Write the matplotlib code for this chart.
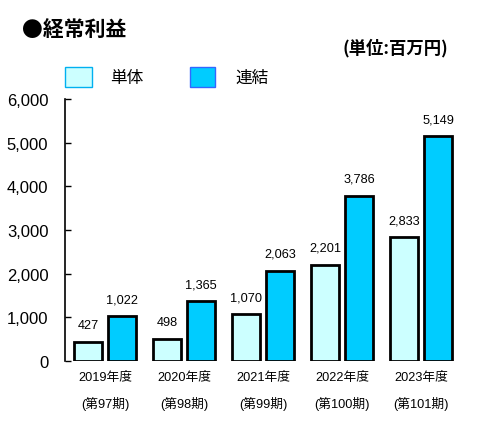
import matplotlib
matplotlib.use("Agg")
import matplotlib.pyplot as plt
from matplotlib.patches import Rectangle
import numpy as np

plt.rcParams['font.family'] = ['Liberation Sans', 'Noto Sans CJK JP']
CJK = ['Noto Sans CJK JP', 'DejaVu Sans']

years = ["2019年度", "2020年度", "2021年度", "2022年度", "2023年度"]
periods = ["(第97期)", "(第98期)", "(第99期)", "(第100期)", "(第101期)"]
single = [427, 498, 1070, 2201, 2833]
consolidated = [1022, 1365, 2063, 3786, 5149]
yticks = [0, 1000, 2000, 3000, 4000, 5000, 6000]

W, H = 490, 427
fig = plt.figure(figsize=(W/100, H/100), dpi=100)
left_px, right_px, top_px, bottom_px = 65, 470, 100, 362
ax = fig.add_axes([left_px/W, 1-bottom_px/H, (right_px-left_px)/W, (bottom_px-top_px)/H])

x = np.arange(len(years))
bw = 0.354
off = 0.215
ax.bar(x-off, single, bw, color='#ccffff', edgecolor='black', linewidth=2)
ax.bar(x+off, consolidated, bw, color='#00ccff', edgecolor='black', linewidth=2)
for i in range(len(x)):
    ax.annotate(f"{single[i]:,}", (x[i]-off, single[i]), xytext=(0, 8), textcoords='offset points',
                ha='center', va='bottom', fontsize=9.2)
    ax.annotate(f"{consolidated[i]:,}", (x[i]+off, consolidated[i]), xytext=(0, 8), textcoords='offset points',
                ha='center', va='bottom', fontsize=9.2)

ax.set_ylim(0, 6000)
ax.set_xlim((left_px-105)/79, (right_px-105)/79)
ax.set_yticks(yticks)
ax.set_yticklabels([f"{v:,}" for v in yticks], fontsize=12)
ax.tick_params(axis='y', direction='in', length=4.5, width=1, pad=12)
ax.set_xticks(x)
ax.set_xticklabels([f"{y}\n{p}" for y, p in zip(years, periods)], fontsize=9.2, linespacing=2.2)
ax.tick_params(axis='x', length=0, pad=7)
for s in ['top', 'right', 'bottom']:
    ax.spines[s].set_visible(False)
ax.spines['left'].set_linewidth(1.2)

fig.text(22/W, 1-30/H, "●経常利益", fontsize=15, fontweight='bold', va='center', ha='left', family=CJK)
fig.text(448/W, 1-48/H, "(単位:百万円)", fontsize=12.5, fontweight='bold', va='center', ha='right', family=CJK)

# legend
fig.patches.append(Rectangle((65/W, 1-88/H), 27/W, 20/H, transform=fig.transFigure,
                             facecolor='#ccffff', edgecolor='#00b0f0', linewidth=1))
fig.text(110/W, 1-78/H, "単体", fontsize=12, va='center', ha='left', family=CJK)
fig.patches.append(Rectangle((190/W, 1-88/H), 25/W, 20/H, transform=fig.transFigure,
                             facecolor='#00ccff', edgecolor='#3366ff', linewidth=1))
fig.text(235/W, 1-78/H, "連結", fontsize=12, va='center', ha='left', family=CJK)

fig.savefig("out.png", dpi=100)
